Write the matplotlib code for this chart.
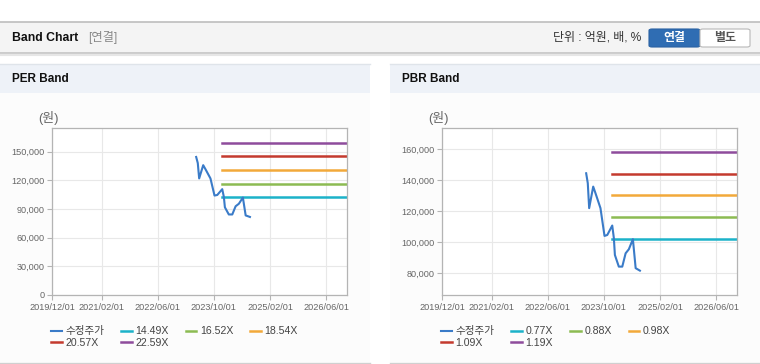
import numpy as np
import pandas as pd
import matplotlib
matplotlib.use('Agg')
import matplotlib.pyplot as plt
import matplotlib.dates as mdates
from matplotlib.patches import Rectangle, FancyBboxPatch

plt.rcParams['font.family'] = ['Liberation Sans', 'Noto Sans CJK KR', 'DejaVu Sans']

W, H = 760, 364

# price series
price_dates = pd.to_datetime(['2023-05-01', '2023-05-15', '2023-05-27', '2023-07-01', '2023-07-21',
                              '2023-09-02', '2023-10-07', '2023-10-31', '2023-12-13', '2023-12-27',
                              '2024-01-05', '2024-02-08', '2024-03-09', '2024-04-07', '2024-05-05',
                              '2024-06-09', '2024-07-03', '2024-08-09'])
price = [144500, 138100, 122000, 135900, 131600,
         122000, 104100, 104700, 110800, 102700,
         91800, 84300, 84300, 92900, 95500,
         102000, 83300, 81700]

band_dates = pd.to_datetime(['2023-12-10', '2026-12-01'])
per_labels = ['14.49X', '16.52X', '18.54X', '20.57X', '22.59X']
per_values = [102700, 116300, 130600, 145600, 159200]
pbr_labels = ['0.77X', '0.88X', '0.98X', '1.09X', '1.19X']
pbr_values = [102300, 116300, 130500, 144300, 158300]

per_yticks = [0, 30000, 60000, 90000, 120000, 150000]
pbr_yticks = [80000, 100000, 120000, 140000, 160000]
xticks = pd.to_datetime(['2019-12-01', '2021-02-01', '2022-06-01', '2023-10-01', '2025-02-01', '2026-06-01'])

price_color = '#3a7bc8'
band_colors = ['#1cb2c9', '#8cbb52', '#f2a93a', '#c43a2e', '#8e4c9c']


def box(x0, y0, x1, y1):
    return [x0 / W, 1 - y1 / H, (x1 - x0) / W, (y1 - y0) / H]


def fx(x):
    return x / W


def fy(y):
    return 1 - y / H


fig = plt.figure(figsize=(W / 100, H / 100), dpi=100)
fig.patch.set_facecolor('white')

# top header bar
fig.patches.append(Rectangle((0, fy(53)), 1, (53 - 22) / H, transform=fig.transFigure,
                             facecolor='#f4f4f4', edgecolor='none', zorder=-2))
fig.add_artist(plt.Line2D([0, 1], [fy(22), fy(22)], color='#bdbdbd', lw=1.2, transform=fig.transFigure))
fig.add_artist(plt.Line2D([0, 1], [fy(53), fy(53)], color='#c4c4c4', lw=1.2, transform=fig.transFigure))
fig.add_artist(plt.Line2D([0, 1], [fy(54.5), fy(54.5)], color='#e6e6e6', lw=1.5, transform=fig.transFigure))
fig.text(fx(12), fy(38), 'Band Chart', fontsize=8.8, fontweight='bold', color='#111', va='center')
fig.text(fx(88), fy(38), '[연결]', fontsize=8.8, color='#888', va='center')
fig.text(fx(641), fy(38), '단위 : 억원, 배, %', fontsize=8.6, color='#333', va='center', ha='right')

# buttons
fig.patches.append(FancyBboxPatch((fx(649), fy(47)), (700 - 649) / W, (47 - 29) / H,
                                  boxstyle='round,pad=0,rounding_size=0.004', transform=fig.transFigure,
                                  facecolor='#2f6db3', edgecolor='#2a62a3', lw=0.8, zorder=-1))
fig.patches.append(FancyBboxPatch((fx(700), fy(47)), (750 - 700) / W, (47 - 29) / H,
                                  boxstyle='round,pad=0,rounding_size=0.004', transform=fig.transFigure,
                                  facecolor='white', edgecolor='#b8b8b8', lw=0.8, zorder=-1))
fig.text(fx(674.5), fy(38), '연결', fontsize=8.6, fontweight='bold', color='white', ha='center', va='center')
fig.text(fx(725), fy(38), '별도', fontsize=8.6, fontweight='bold', color='#555', ha='center', va='center')

panels = [
    (0, 370, 'PER Band', per_labels, per_values, per_yticks, (0, 174500)),
    (390, 760, 'PBR Band', pbr_labels, pbr_values, pbr_yticks, (66000, 173500)),
]

for x0, x1, title, labels, values, yticks, ylim in panels:
    fig.patches.append(Rectangle((fx(x0), fy(362)), (x1 - x0) / W, (362 - 93) / H, transform=fig.transFigure,
                                 facecolor='#fcfcfc', edgecolor='none', zorder=-2))
    fig.patches.append(Rectangle((fx(x0), fy(93)), (x1 - x0) / W, (93 - 64) / H, transform=fig.transFigure,
                                 facecolor='#eef2f8', edgecolor='none', zorder=-2))
    fig.add_artist(plt.Line2D([fx(x0), fx(x1)], [fy(64), fy(64)], color='#dfe4ea', lw=1, transform=fig.transFigure))
    fig.add_artist(plt.Line2D([fx(x0), fx(x1)], [fy(362.5), fy(362.5)], color='#d0d0d0', lw=1, transform=fig.transFigure))
    fig.text(fx(x0 + 12), fy(79), title, fontsize=8.5, fontweight='bold', color='#111', va='center')
    fig.text(fx(x0 + 38), fy(118), '(원)', fontsize=9.3, color='#666', va='center')

    ax = fig.add_axes(box(x0 + 52.3, 128.3, x0 + 347.3, 295))
    ax.set_facecolor('white')
    lp, = ax.plot(price_dates, price, color=price_color, lw=1.5, label='수정주가', zorder=3)
    hs = []
    for lab, v, c in zip(labels, values, band_colors):
        h, = ax.plot(band_dates, [v, v], color=c, lw=1.8, label=lab, zorder=2)
        hs.append(h)
    ax.set_xlim(pd.Timestamp('2019-12-01'), pd.Timestamp('2026-12-01'))
    ax.set_ylim(*ylim)
    ax.set_xticks(xticks)
    ax.xaxis.set_major_formatter(mdates.DateFormatter('%Y/%m/%d'))
    ax.set_yticks(yticks)
    ax.set_yticklabels([f'{v:,}' for v in yticks])
    ax.grid(True, color='#e8e8e8', lw=0.8)
    ax.set_axisbelow(True)
    for s in ax.spines.values():
        s.set_color('#b4b4b4')
        s.set_linewidth(0.9)
    ax.tick_params(axis='both', colors='#b4b4b4', labelcolor='#666', labelsize=6.6, length=3.5, width=0.8, pad=2)

    order = [lp, hs[3], hs[0], hs[4], hs[1], hs[2]]
    ax.legend(order, [h.get_label() for h in order], ncol=4, loc='upper left',
              bbox_to_anchor=(fx(x0 + 46), fy(321)), bbox_transform=fig.transFigure,
              frameon=False, fontsize=7.6, handlelength=1.0, handletextpad=0.35,
              columnspacing=1.6, labelspacing=0.15, borderpad=0, labelcolor='#444')

fig.savefig('out.png', dpi=100, facecolor=fig.get_facecolor())
